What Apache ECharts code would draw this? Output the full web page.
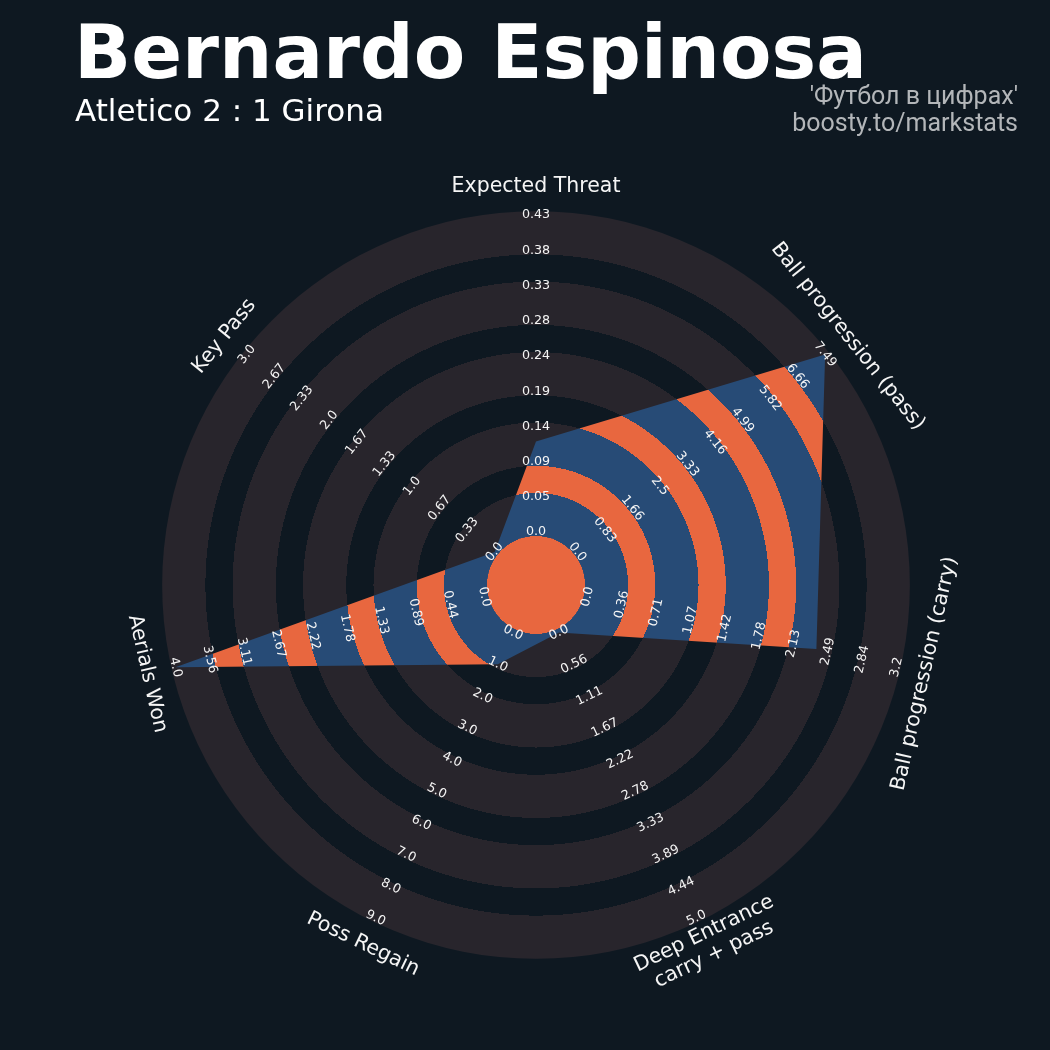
<!DOCTYPE html>
<html><head><meta charset="utf-8">
<script src="https://cdn.jsdelivr.net/npm/echarts@6/dist/echarts.min.js"></script>
<style>html,body{margin:0;padding:0;background:#0e1821;} #c{width:1050px;height:1050px;}</style>
</head><body><div id="c"></div>
<script>
// ---- data ----
const params = ['Expected Threat', 'Ball progression (pass)', 'Ball progression (carry)',
  'Deep Entrance\ncarry + pass', 'Poss Regain', 'Aerials Won', 'Key Pass'];
const minRange = [0, 0, 0, 0, 0, 0, 0];
const maxRange = [0.43, 7.49, 3.2, 5.0, 9.0, 4.0, 3.0];
const values = [0.123, 7.49, 2.37, 0, 1.0, 4.0, 0];
const ticksXT = ['0.0', '0.05', '0.09', '0.14', '0.19', '0.24', '0.28', '0.33', '0.38', '0.43'];
const ticksPass = ['0.0', '0.83', '1.66', '2.5', '3.33', '4.16', '4.99', '5.82', '6.66', '7.49'];
const ticksCarry = ['0.0', '0.36', '0.71', '1.07', '1.42', '1.78', '2.13', '2.49', '2.84', '3.2'];
const ticksDeep = ['0.0', '0.56', '1.11', '1.67', '2.22', '2.78', '3.33', '3.89', '4.44', '5.0'];
const ticksRegain = ['0.0', '1.0', '2.0', '3.0', '4.0', '5.0', '6.0', '7.0', '8.0', '9.0'];
const ticksAerial = ['0.0', '0.44', '0.89', '1.33', '1.78', '2.22', '2.67', '3.11', '3.56', '4.0'];
const ticksKey = ['0.0', '0.33', '0.67', '1.0', '1.33', '1.67', '2.0', '2.33', '2.67', '3.0'];
const rangeTicks = [ticksXT, ticksPass, ticksCarry, ticksDeep, ticksRegain, ticksAerial, ticksKey];
const numRings = 9;
const titleText = 'Bernardo Espinosa';
const subtitleText = 'Atletico 2 : 1 Girona';
const creditText = "'Футбол в цифрах'\nboosty.to/markstats";

// ---- style ----
const BG = '#0e1821', RING = '#28252c', BLUE = '#274b76', ORANGE = '#e8673f';
const CX = 536, CY = 585, UNIT = 35.22;
const U_MIN = -1.5, U_MAX = 9.5, GAP = 0.114, U_PARAM = 9.82;
const FONT = '"DejaVu Sans", sans-serif';

const angleOf = i => i * 360 / params.length;
const norm = (i, v) => (v - minRange[i]) / (maxRange[i] - minRange[i]) * numRings;
function rotOf(a) {
  let r = -a;
  if (r <= -180) r += 360;
  if (Math.abs(r) > 90) r += (r > 0 ? -180 : 180);
  return r * Math.PI / 180;
}
function geom(api) {
  const c = api.coord([U_MIN, 0]);
  const px = u => { const p = api.coord([u, 0]); return Math.hypot(p[0] - c[0], p[1] - c[1]); };
  return { c, px };
}
function bandGradient(c, R, px, inner, outer) {
  const stops = [];
  const add = (r, col) => stops.push({ offset: Math.min(1, Math.max(0, r / R)), color: col });
  add(0, inner); add(px(-GAP), inner); add(px(-GAP), outer);
  for (let k = 0; k < Math.floor(numRings / 2); k++) {
    const a = px(2 * k + 1 + GAP), b = px(2 * k + 2 - GAP);
    add(a, outer); add(a, inner); add(b, inner); add(b, outer);
  }
  add(R, outer);
  return new echarts.graphic.RadialGradient(c[0], c[1], R, stops, true);
}

const radarData = values.map((v, i) => [norm(i, v), angleOf(i)]);
const tickData = [], tickText = [];
rangeTicks.forEach((arr, i) => arr.forEach((t, k) => { tickData.push([k, angleOf(i)]); tickText.push(t); }));
const paramData = params.map((p, i) => [U_PARAM, angleOf(i)]);

const chart = echarts.init(document.getElementById('c'), null, { renderer: 'canvas' });
chart.setOption({
  backgroundColor: BG,
  animation: false,
  polar: { center: [CX, CY], radius: (U_MAX - U_MIN) * UNIT },
  angleAxis: { type: 'value', min: 0, max: 360, startAngle: 90, clockwise: true, show: false },
  radiusAxis: { type: 'value', min: U_MIN, max: U_MAX, show: false },
  graphic: [
    { type: 'text', x: 74, y: 59, style: { text: titleText, font: 'bold 75px ' + FONT, fill: '#ffffff', verticalAlign: 'middle' } },
    { type: 'text', x: 75, y: 113, style: { text: subtitleText, font: '31px ' + FONT, fill: '#ffffff', verticalAlign: 'middle' } },
    { type: 'text', x: 1018, y: 111, style: { text: creditText, font: '25px Roboto', fill: '#b3b6b9', align: 'right', verticalAlign: 'middle', lineHeight: 27 } }
  ],
  series: [
    { // background rings
      type: 'custom', coordinateSystem: 'polar', silent: true, z: 1,
      data: [[U_MIN, 0]],
      renderItem: (p, api) => {
        const g = geom(api);
        const R = g.px(numRings + GAP);
        return { type: 'circle', shape: { cx: g.c[0], cy: g.c[1], r: R },
          style: { fill: bandGradient(g.c, R, g.px, BG, RING) } };
      }
    },
    { // radar polygon
      type: 'custom', coordinateSystem: 'polar', silent: true, z: 2,
      data: radarData,
      renderItem: (p, api) => {
        if (p.dataIndex !== 0) return null;
        const g = geom(api);
        const pts = radarData.map(d => api.coord(d));
        const R = g.px(numRings + 0.5);
        return { type: 'group', children: [
          { type: 'polygon', shape: { points: pts }, style: { fill: bandGradient(g.c, R, g.px, ORANGE, BLUE) } },
          { type: 'circle', shape: { cx: g.c[0], cy: g.c[1], r: g.px(-GAP) }, style: { fill: ORANGE } }
        ] };
      }
    },
    { // range labels
      type: 'custom', coordinateSystem: 'polar', silent: true, z: 3,
      data: tickData,
      renderItem: (p, api) => {
        const pt = api.coord([api.value(0), api.value(1)]);
        return { type: 'text', x: pt[0], y: pt[1], rotation: rotOf(api.value(1)),
          style: { text: tickText[p.dataIndex], font: '12.7px ' + FONT, fill: '#f5f5f5', align: 'center', verticalAlign: 'middle' } };
      }
    },
    { // parameter labels
      type: 'custom', coordinateSystem: 'polar', silent: true, z: 3,
      data: paramData,
      renderItem: (p, api) => {
        const pt = api.coord([api.value(0), api.value(1)]);
        return { type: 'text', x: pt[0], y: pt[1], rotation: rotOf(api.value(1)),
          style: { text: params[p.dataIndex], font: '20.5px ' + FONT, fill: '#f5f5f5', align: 'center', verticalAlign: 'middle', lineHeight: 23 } };
      }
    }
  ]
});
</script></body></html>
